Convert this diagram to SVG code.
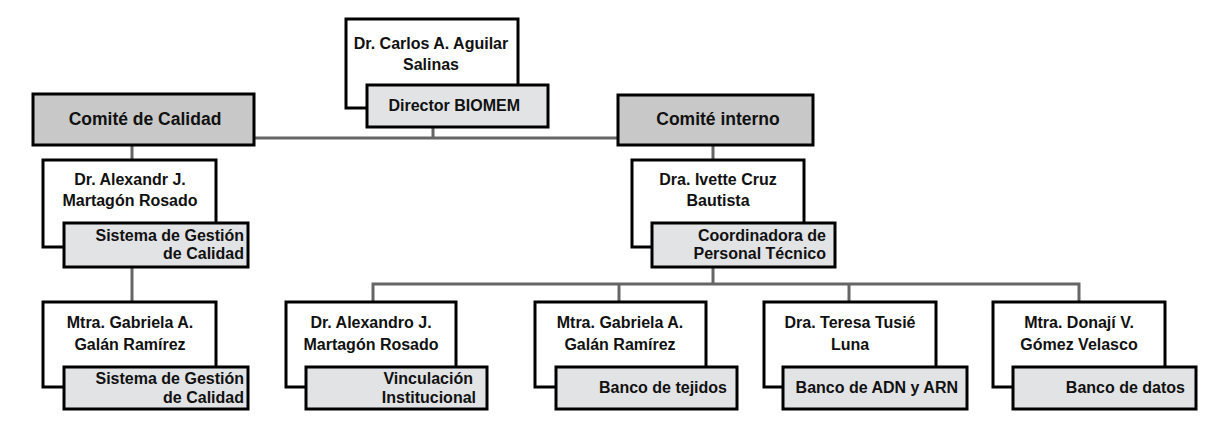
<svg xmlns="http://www.w3.org/2000/svg" width="1221" height="423" viewBox="0 0 1221 423">
<style>
  text { font-family: "Liberation Sans", Arial, sans-serif; font-weight: 700; fill: #111; }
  .name { font-size: 16px; text-anchor: middle; }
  .role { font-size: 16px; text-anchor: end; }
  .head { font-size: 17.5px; text-anchor: middle; }
  .wbox { fill: #ffffff; stroke: #000; stroke-width: 3; }
  .sbox { fill: #e1e3e5; stroke: #000; stroke-width: 3; }
  .hbox { fill: #c8c8c8; stroke: #000; stroke-width: 3; }
  .conn { fill: none; stroke: #666; stroke-width: 3; }
</style>
<rect width="1221" height="423" fill="#ffffff"/>
<g id="connectors">
  <path class="conn" d="M433 127 V138"/>
  <path class="conn" d="M254 138 H618"/>
  <path class="conn" d="M132 145 V160"/>
  <path class="conn" d="M132 267 V302"/>
  <path class="conn" d="M713 145 V160"/>
  <path class="conn" d="M713 267 V284"/>
  <path class="conn" d="M373 302 V284 H1079 V302"/>
  <path class="conn" d="M619 284 V302"/>
  <path class="conn" d="M849 284 V302"/>
</g>
<g id="director">
  <rect class="wbox" x="346" y="19" width="172" height="89"/>
  <text class="name" x="431" y="49">Dr. Carlos A. Aguilar</text>
  <text class="name" x="431" y="70">Salinas</text>
  <rect class="sbox" x="367" y="85" width="181" height="42"/>
  <text class="role" x="520" y="111">Director BIOMEM</text>
</g>
<g id="comite-calidad">
  <rect class="hbox" x="33" y="94" width="221" height="51"/>
  <text class="head" x="145" y="125">Comité de Calidad</text>
</g>
<g id="comite-interno">
  <rect class="hbox" x="618" y="95" width="195" height="50"/>
  <text class="head" x="718" y="125">Comité interno</text>
</g>
<g id="martagon-calidad">
  <rect class="wbox" x="43" y="160" width="173" height="87"/>
  <text class="name" x="130" y="185">Dr. Alexandr J.</text>
  <text class="name" x="130" y="206">Martagón Rosado</text>
  <rect class="sbox" x="64" y="223" width="184" height="44"/>
  <text class="role" x="244" y="241">Sistema de Gestión</text>
  <text class="role" x="244" y="259">de Calidad</text>
</g>
<g id="cruz">
  <rect class="wbox" x="632" y="160" width="172" height="87"/>
  <text class="name" x="718" y="185">Dra. Ivette Cruz</text>
  <text class="name" x="718" y="206">Bautista</text>
  <rect class="sbox" x="652" y="223" width="183" height="44"/>
  <text class="role" x="826" y="241">Coordinadora de</text>
  <text class="role" x="826" y="259">Personal Técnico</text>
</g>
<g id="galan-calidad">
  <rect class="wbox" x="43" y="302" width="173" height="85"/>
  <text class="name" x="130" y="328">Mtra. Gabriela A.</text>
  <text class="name" x="130" y="350">Galán Ramírez</text>
  <rect class="sbox" x="64" y="367" width="184" height="42"/>
  <text class="role" x="244" y="384">Sistema de Gestión</text>
  <text class="role" x="244" y="403">de Calidad</text>
</g>
<g id="martagon-vinculacion">
  <rect class="wbox" x="286" y="302" width="170" height="85"/>
  <text class="name" x="371" y="328">Dr. Alexandro J.</text>
  <text class="name" x="371" y="350">Martagón Rosado</text>
  <rect class="sbox" x="306" y="367" width="181" height="42"/>
  <text class="role" x="473" y="384">Vinculación</text>
  <text class="role" x="476" y="403">Institucional</text>
</g>
<g id="galan-tejidos">
  <rect class="wbox" x="535" y="302" width="171" height="85"/>
  <text class="name" x="620" y="328">Mtra. Gabriela A.</text>
  <text class="name" x="620" y="350">Galán Ramírez</text>
  <rect class="sbox" x="556" y="367" width="181" height="42"/>
  <text class="role" x="727" y="393">Banco de tejidos</text>
</g>
<g id="tusie">
  <rect class="wbox" x="764" y="302" width="172" height="85"/>
  <text class="name" x="850" y="328">Dra. Teresa Tusié</text>
  <text class="name" x="850" y="350">Luna</text>
  <rect class="sbox" x="783" y="367" width="184" height="42"/>
  <text class="role" x="958" y="393">Banco de ADN y ARN</text>
</g>
<g id="gomez">
  <rect class="wbox" x="993" y="302" width="172" height="85"/>
  <text class="name" x="1079" y="328">Mtra. Donají V.</text>
  <text class="name" x="1079" y="350">Gómez Velasco</text>
  <rect class="sbox" x="1013" y="367" width="183" height="42"/>
  <text class="role" x="1185" y="393">Banco de datos</text>
</g>
</svg>
